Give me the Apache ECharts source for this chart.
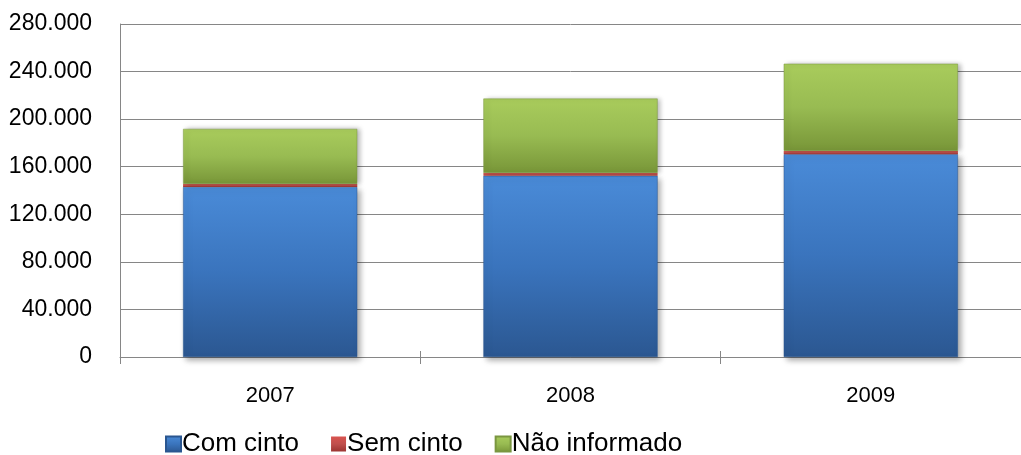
<!DOCTYPE html>
<html lang="pt">
<head>
	<meta charset="UTF-8">
	<title>Cinto</title>
	<script src="https://cdn.jsdelivr.net/npm/echarts@6/dist/echarts.min.js"></script>
	<style>
		html,body{margin:0;padding:0;background:#fff;}
		#main{width:1021px;height:455px;}
	</style>
</head>
<body>
	<div id="main"></div>
	<script>
		var anos = ['2007', '2008', '2009'];
		var comCinto = [143000, 152300, 170500];
		var semCinto = [2500, 2500, 2800];
		var naoInformado = [46300, 62500, 73300];
		var nomes = ['Com cinto', 'Sem cinto', 'Não informado'];

		function grad(c1, c2, c3){
			return new echarts.graphic.LinearGradient(0, 0, 0, 1, [
				{offset: 0, color: c1},
				{offset: 0.5, color: c2},
				{offset: 1, color: c3}
			]);
		}
		function milhar(v){
			return String(v).replace(/\B(?=(\d{3})+(?!\d))/g, '.');
		}

		var fonte = 'Liberation Sans, Arial, sans-serif';
		var myChart = echarts.init(document.getElementById('main'));
		var option = {
			animation: false,
			textStyle: {fontFamily: fonte},
			grid: {left: 120, top: 24, width: 908, height: 333, containLabel: false},
			legend: {
				top: 426,
				left: 160,
				itemWidth: 15,
				itemHeight: 15,
				itemGap: 32,
				icon: 'rect',
				textStyle: {fontSize: 26, color: '#000', width: 200, padding: [0, 0, 0, -4]},
				data: nomes
			},
			xAxis: [{
				type: 'category',
				data: anos,
				axisLine: {lineStyle: {color: '#868686', width: 1}},
				axisTick: {show: true, length: 7, lineStyle: {color: '#868686'}},
				axisLabel: {fontSize: 22, color: '#000', margin: 28}
			}, {
				type: 'category',
				data: anos,
				position: 'bottom',
				axisLine: {show: false},
				axisTick: {show: true, inside: true, length: 6, lineStyle: {color: '#868686'}},
				axisLabel: {show: false}
			}],
			yAxis: {
				type: 'value',
				min: 0,
				max: 280000,
				interval: 40000,
				axisLine: {show: true, lineStyle: {color: '#868686'}},
				axisTick: {show: false},
				splitLine: {lineStyle: {color: '#868686', width: 1}},
				axisLabel: {fontSize: 23, color: '#000', margin: 28, formatter: milhar}
			},
			series: [{
				name: nomes[0],
				type: 'bar',
				stack: 'total',
				barWidth: '58%',
				data: comCinto,
				itemStyle: {
					color: grad('#4a8bd8', '#3a74bd', '#2b5791'),
					borderColor: '#2a5690', borderWidth: 0.5,
					shadowColor: 'rgba(0,0,0,0.35)', shadowBlur: 6, shadowOffsetX: 3, shadowOffsetY: 3
				}
			}, {
				name: nomes[1],
				type: 'bar',
				stack: 'total',
				data: semCinto,
				itemStyle: {color: grad('#d9534f', '#c0504d', '#9c3532')}
			}, {
				name: nomes[2],
				type: 'bar',
				stack: 'total',
				data: naoInformado,
				itemStyle: {
					color: grad('#a9cc5c', '#98bb52', '#789638'),
					borderColor: '#7a9640', borderWidth: 0.5,
					shadowColor: 'rgba(0,0,0,0.3)', shadowBlur: 5, shadowOffsetX: 3, shadowOffsetY: 0
				}
			}]
		};
		myChart.setOption(option);
	</script>
</body>
</html>
